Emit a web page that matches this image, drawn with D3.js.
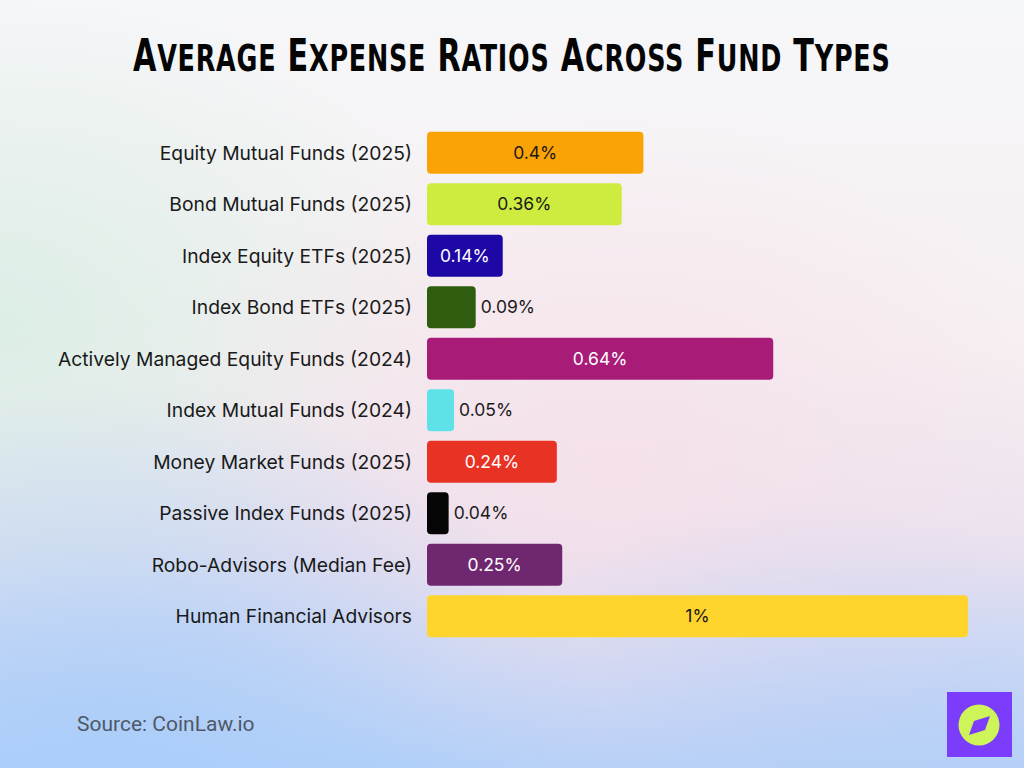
<!DOCTYPE html>
<html>
<head>
<meta charset="utf-8">
<script src="https://cdn.jsdelivr.net/npm/d3@7"></script>
<style>
  html, body { margin: 0; padding: 0; }
  body { width: 1024px; height: 768px; overflow: hidden; }
  svg { display: block; }
</style>
</head>
<body>
<svg id="chart" width="1024" height="768"></svg>
<script>
// data
var categories = [
  'Equity Mutual Funds (2025)',
  'Bond Mutual Funds (2025)',
  'Index Equity ETFs (2025)',
  'Index Bond ETFs (2025)',
  'Actively Managed Equity Funds (2024)',
  'Index Mutual Funds (2024)',
  'Money Market Funds (2025)',
  'Passive Index Funds (2025)',
  'Robo-Advisors (Median Fee)',
  'Human Financial Advisors'
];
var values = [0.4, 0.36, 0.14, 0.09, 0.64, 0.05, 0.24, 0.04, 0.25, 1];
var valueLabels = ['0.4%', '0.36%', '0.14%', '0.09%', '0.64%', '0.05%', '0.24%', '0.04%', '0.25%', '1%'];
var barColors = ['#fba305', '#cdec3f', '#1d08a6', '#2e5d0f', '#a81c78', '#5fe1e8', '#e83224', '#050505', '#6f2870', '#ffd42c'];
var darkBars = [false, false, true, true, true, false, true, true, true, false];
var titleText = 'Average Expense Ratios Across Fund Types';

var svg = d3.select('#chart');
var W = 1024, H = 768;

// background
var defs = svg.append('defs');
var lg = defs.append('linearGradient').attr('id', 'bg').attr('x1', 0).attr('y1', 0).attr('x2', 0).attr('y2', 1);
lg.append('stop').attr('offset', '0%').attr('stop-color', '#f6f7f9');
lg.append('stop').attr('offset', '45%').attr('stop-color', '#f6eff1');
lg.append('stop').attr('offset', '72%').attr('stop-color', '#e9e1ef');
lg.append('stop').attr('offset', '100%').attr('stop-color', '#b3d0f9');
svg.append('rect').attr('width', W).attr('height', H).attr('fill', 'url(#bg)');

function glow(id, cx, cy, r, color, op) {
  var rg = defs.append('radialGradient').attr('id', id).attr('cx', cx).attr('cy', cy).attr('r', r);
  rg.append('stop').attr('offset', '0%').attr('stop-color', color).attr('stop-opacity', op);
  rg.append('stop').attr('offset', '100%').attr('stop-color', color).attr('stop-opacity', 0);
  svg.append('rect').attr('width', W).attr('height', H).attr('fill', 'url(#' + id + ')');
}
glow('glowGreen', 0, 0.42, 0.45, '#d9eee5', 0.9);
glow('glowPink', 0.6, 0.6, 0.45, '#f6dfe9', 0.8);
glow('glowBlue', 0.1, 1, 0.5, '#a9cdf9', 0.9);
glow('glowBlue2', 0.8, 1.05, 0.4, '#b7cff6', 0.7);

// title: caps with larger initials, squeezed horizontally to a condensed look
var titleG = svg.append('g');
var title = titleG.append('text')
  .attr('x', 0).attr('y', 0)
  .style('font-family', '"DejaVu Sans Condensed", "DejaVu Sans", sans-serif')
  .style('font-weight', 'bold')
  .style('letter-spacing', '1px')
  .attr('fill', '#050505');
titleText.split(' ').forEach(function (w, i) {
  title.append('tspan').style('font-size', '44px').text((i ? ' ' : '') + w.charAt(0).toUpperCase());
  title.append('tspan').style('font-size', '37px').text(w.slice(1).toUpperCase());
});
var tw = title.node().getComputedTextLength();
var sx = 758 / tw;
titleG.attr('transform', 'translate(' + (512 - 758 / 2) + ',71) scale(' + sx + ',1)');

// scales
var x = d3.scaleLinear().domain([0, 1]).range([427, 968]);
var y = d3.scaleBand().domain(categories).range([127, 642]).paddingInner(0.18).paddingOuter(0.09);

var rows = categories.map(function (c, i) {
  return { name: c, value: values[i], label: valueLabels[i], color: barColors[i], dark: darkBars[i] };
});

var fontBody = 'Inter, "Open Sans", sans-serif';

var g = svg.append('g');

g.selectAll('.bar').data(rows).enter().append('rect')
  .attr('class', 'bar')
  .attr('x', x(0))
  .attr('y', function (d) { return y(d.name); })
  .attr('width', function (d) { return x(d.value) - x(0); })
  .attr('height', y.bandwidth())
  .attr('rx', 4)
  .attr('fill', function (d) { return d.color; });

// category labels
g.selectAll('.cat').data(rows).enter().append('text')
  .attr('class', 'cat')
  .attr('x', 412)
  .attr('y', function (d) { return y(d.name) + y.bandwidth() / 2; })
  .attr('dy', '0.35em')
  .attr('text-anchor', 'end')
  .style('font-family', fontBody)
  .style('font-size', '19.3px')
  .attr('fill', '#1a1a1a')
  .text(function (d) { return d.name; });

// value labels: inside when the bar is wide enough
var vals = g.selectAll('.val').data(rows).enter().append('text')
  .attr('class', 'val')
  .attr('y', function (d) { return y(d.name) + y.bandwidth() / 2; })
  .attr('dy', '0.35em')
  .style('font-family', fontBody)
  .style('font-size', '17.5px')
  .text(function (d) { return d.label; });

vals.each(function (d) {
  var t = d3.select(this);
  var w = this.getComputedTextLength();
  var bw = x(d.value) - x(0);
  if (w + 8 < bw) {
    t.attr('x', x(0) + bw / 2).attr('text-anchor', 'middle')
      .attr('fill', d.dark ? '#ffffff' : '#1a1a1a');
  } else {
    t.attr('x', x(d.value) + 5).attr('text-anchor', 'start').attr('fill', '#1a1a1a');
  }
});

// source
svg.append('text')
  .attr('x', 77).attr('y', 731)
  .style('font-family', 'Roboto, sans-serif')
  .style('font-size', '21px')
  .attr('fill', '#4f5867')
  .text('Source: CoinLaw.io');

// logo
var logo = svg.append('g').attr('transform', 'translate(947,692)');
logo.append('rect').attr('width', 65).attr('height', 65).attr('fill', '#7b3cfb');
logo.append('circle').attr('cx', 32).attr('cy', 33).attr('r', 20.5).attr('fill', '#cdf55a');
logo.append('path')
  .attr('d', 'M43,24 L38,38 L22,43 L27,29 Z')
  .attr('fill', '#7b3cfb');
</script>
</body>
</html>
